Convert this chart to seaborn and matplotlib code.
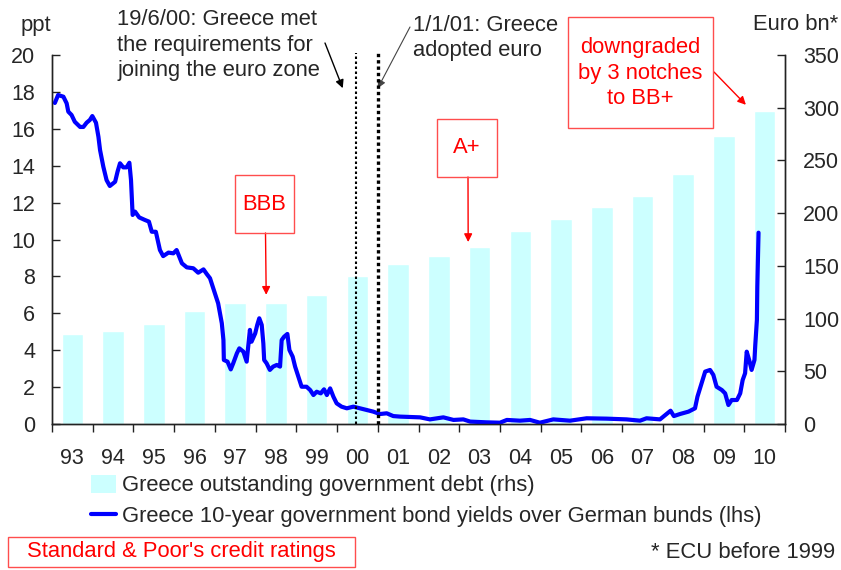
import seaborn as sns
import matplotlib
matplotlib.use('Agg')
from matplotlib import pyplot as plt
from matplotlib.patches import Rectangle, Patch
from matplotlib.lines import Line2D

# bars: outstanding government debt (rhs, euro bn)
years = ['93', '94', '95', '96', '97', '98', '99', '00', '01',
         '02', '03', '04', '05', '06', '07', '08', '09', '10']
debt = [85, 88, 95, 107, 115, 115, 122, 140, 152,
        159, 168, 183, 194, 206, 216, 237, 273, 297]

# line: 10y spread over bunds (lhs, ppt), decimal years
spread_dates = [
    1993.07, 1993.15, 1993.28, 1993.36, 1993.40, 1993.48, 1993.56, 1993.69, 1993.77, 1993.85,
    1993.93, 1993.99, 1994.08, 1994.14, 1994.18, 1994.26, 1994.34, 1994.42, 1994.55, 1994.61,
    1994.67, 1994.75, 1994.83, 1994.90, 1994.94, 1994.98, 1995.04, 1995.14, 1995.28, 1995.38,
    1995.45, 1995.55, 1995.65, 1995.73, 1995.86, 1995.98, 1996.06, 1996.19, 1996.31, 1996.47,
    1996.59, 1996.72, 1996.80, 1996.88, 1997.00, 1997.08, 1997.17, 1997.21, 1997.22, 1997.31,
    1997.39, 1997.45, 1997.54, 1997.60, 1997.70, 1997.78, 1997.86, 1997.90, 1997.99, 1998.04,
    1998.09, 1998.15, 1998.19, 1998.21, 1998.27, 1998.35, 1998.43, 1998.52, 1998.60, 1998.64,
    1998.70, 1998.78, 1998.83, 1998.91, 1998.97, 1999.05, 1999.13, 1999.25, 1999.34, 1999.42,
    1999.50, 1999.60, 1999.68, 1999.75, 1999.83, 1999.91, 1999.99, 2000.11, 2000.24, 2000.40,
    2000.56, 2000.73, 2000.89, 2001.05, 2001.22, 2001.38, 2001.55, 2001.80, 2002.04, 2002.28,
    2002.61, 2002.86, 2003.10, 2003.27, 2003.67, 2004.00, 2004.17, 2004.49, 2004.74, 2004.98,
    2005.31, 2005.72, 2006.13, 2006.62, 2007.11, 2007.44, 2007.60, 2007.93, 2008.19, 2008.27,
    2008.42, 2008.63, 2008.79, 2008.85, 2008.95, 2009.04, 2009.16, 2009.24, 2009.32, 2009.45,
    2009.53, 2009.61, 2009.69, 2009.82, 2009.90, 2009.96, 2010.02, 2010.06, 2010.12, 2010.18,
    2010.25, 2010.27, 2010.31, 2010.32, 2010.35]
spread = [
    17.40, 17.83, 17.74, 17.38, 16.93, 16.75, 16.38, 16.10, 16.10, 16.33,
    16.48, 16.69, 16.33, 15.57, 14.85, 13.95, 13.22, 12.90, 13.13, 13.68,
    14.13, 13.91, 13.91, 14.16, 13.22, 11.33, 11.51, 11.20, 11.06, 10.97,
    10.42, 10.42, 9.43, 9.10, 9.29, 9.25, 9.43, 8.71, 8.49, 8.44,
    8.20, 8.38, 8.13, 7.90, 7.08, 6.54, 5.46, 4.55, 3.47, 3.38,
    2.96, 3.29, 3.83, 4.10, 3.92, 3.38, 5.10, 4.46, 4.91, 5.37,
    5.73, 5.37, 4.37, 3.47, 3.29, 2.93, 3.11, 3.20, 3.11, 4.55,
    4.73, 4.88, 4.01, 3.65, 3.11, 2.56, 2.02, 2.02, 1.84, 1.57,
    1.75, 1.66, 1.88, 1.57, 1.93, 1.48, 1.12, 0.94, 0.85, 0.94,
    0.85, 0.76, 0.67, 0.54, 0.58, 0.43, 0.40, 0.38, 0.36, 0.25,
    0.36, 0.22, 0.25, 0.13, 0.09, 0.07, 0.22, 0.18, 0.22, 0.07,
    0.25, 0.18, 0.31, 0.29, 0.25, 0.18, 0.31, 0.25, 0.72, 0.43,
    0.54, 0.67, 0.85, 1.48, 2.20, 2.84, 2.93, 2.66, 2.02, 1.84,
    1.66, 1.03, 1.30, 1.30, 1.66, 2.38, 2.75, 3.92, 3.47, 2.93,
    3.47, 4.28, 5.64, 7.44, 10.37]

# event dates
met_requirements = 2000.47
adopted_euro = 2001.0
bbb_date, bbb_level = 1998.26, 7.0
aplus_date, aplus_level = 2003.22, 9.86
bbplus_date, bbplus_level = 2010.04, 17.3

W, H = 841, 570
FS = 15.8


def fx(x):
    return x / W


def fy(y):
    return 1 - y / H


def pos(t):
    # decimal year -> categorical bar position
    return t - 1993.5


def redBox(x0, y0, x1, y1):
    fig.add_artist(Rectangle((fx(x0), fy(y1)), fx(x1) - fx(x0), fy(y0) - fy(y1),
                             transform=fig.transFigure, fill=False,
                             edgecolor='#ff4d4d', lw=1.0))


sns.set_style('white')
plt.rcParams['font.family'] = ['Liberation Sans', 'DejaVu Sans']

fig = plt.figure(figsize=(8.41, 5.70), dpi=100)
ax = fig.add_axes([fx(52), fy(424), fx(785) - fx(52), fy(55) - fy(424)])

sns.barplot(x=years, y=debt, color='#ccffff', saturation=1, width=0.53, ax=ax)
ax.set_xlabel('')
ax.set_ylabel('')

ax2 = ax.twinx()
sns.lineplot(x=[pos(t) for t in spread_dates], y=spread, ax=ax2,
             color='#0000ff', lw=3.0, solid_joinstyle='round')
ax2.set_ylabel('')

# bars carry the right-hand scale, the line the left-hand one
ax.set_ylim(0, 350)
ax.set_yticks(range(0, 351, 50))
ax.yaxis.tick_right()
ax2.set_ylim(0, 20)
ax2.set_yticks(range(0, 21, 2))
ax2.yaxis.tick_left()
ax.set_xlim(-0.5, 17.5)
ax2.set_xlim(-0.5, 17.5)

for a, p in ((ax, 13), (ax2, 12)):
    for s in a.spines.values():
        s.set_color('#222222')
        s.set_linewidth(1.0)
    a.spines['top'].set_visible(False)
    a.tick_params(axis='y', direction='in', length=6, width=1,
                  labelsize=15.5, color='#222222', pad=p)

ax.set_xticks(range(len(years)))
ax.set_xticklabels(years)
ax.set_xticks([i - 0.5 for i in range(len(years) + 1)], minor=True)
ax.tick_params(axis='x', which='major', length=0, labelsize=15.5, pad=17)
ax.tick_params(axis='x', which='minor', direction='out', length=6, width=1,
               color='#222222', bottom=True)
ax2.tick_params(axis='x', which='both', length=0, labelbottom=False)

# euro zone dates
ax2.vlines(pos(met_requirements), 0, 20.1, colors='black', linestyles=(0, (1.2, 1.2)),
           lw=1.5, clip_on=False, zorder=5)
ax2.vlines(pos(adopted_euro), 0, 20.1, colors='black', linestyles=(0, (1.0, 0.9)),
           lw=2.4, clip_on=False, zorder=5)

fig.text(fx(117), fy(45), '19/6/00: Greece met\nthe requirements for\njoining the euro zone',
         fontsize=FS, ha='left', va='center', linespacing=1.3)
fig.text(fx(413), fy(38), '1/1/01: Greece\nadopted euro',
         fontsize=FS, ha='left', va='center', linespacing=1.3)
ax2.annotate('', xy=(pos(met_requirements) - 0.33, 18.2), xycoords='data',
             xytext=(325, H - 43), textcoords='figure pixels',
             arrowprops=dict(arrowstyle='-|>', color='black', lw=1.0,
                             mutation_scale=12, shrinkA=0, shrinkB=0))
ax2.annotate('', xy=(pos(adopted_euro), 18.2), xycoords='data',
             xytext=(410, H - 27), textcoords='figure pixels',
             arrowprops=dict(arrowstyle='-|>', color='#444444', lw=0.8,
                             mutation_scale=12, shrinkA=0, shrinkB=0))

# credit rating boxes
red = '#ff0000'
boxes = [
    ('BBB', (235, 175, 294, 233), bbb_date, bbb_level),
    ('A+', (437, 119, 497, 177), aplus_date, aplus_level),
]
for label, (x0, y0, x1, y1), t, lev in boxes:
    redBox(x0, y0, x1, y1)
    fig.text(fx((x0 + x1) / 2), fy((y0 + y1) / 2), label, color=red,
             fontsize=FS, ha='center', va='center')
    ax2.annotate('', xy=(pos(t), lev), xycoords='data',
                 xytext=((x0 + x1) / 2 + 1, H - y1), textcoords='figure pixels',
                 arrowprops=dict(arrowstyle='-|>', color=red, lw=1.0,
                                 mutation_scale=12, shrinkA=0, shrinkB=0))

redBox(568, 17, 713, 128)
fig.text(fx(640), fy(73), 'downgraded\nby 3 notches\nto BB+', color=red,
         fontsize=FS, ha='center', va='center', linespacing=1.25)
ax2.annotate('', xy=(pos(bbplus_date), bbplus_level), xycoords='data',
             xytext=(714, H - 72), textcoords='figure pixels',
             arrowprops=dict(arrowstyle='-|>', color=red, lw=1.0,
                             mutation_scale=12, shrinkA=0, shrinkB=0))

# axis units
fig.text(fx(36), fy(25), 'ppt', fontsize=FS, ha='center', va='center')
fig.text(fx(796), fy(25), 'Euro bn*', fontsize=FS, ha='center', va='center')

# legend
handles = [Patch(facecolor='#ccffff', edgecolor='none'),
           Line2D([0], [0], color='#0000ff', lw=3)]
labels = ['Greece outstanding government debt (rhs)',
          'Greece 10-year government bond yields over German bunds (lhs)']
fig.legend(handles, labels, loc='upper left', bbox_to_anchor=(fx(91), fy(475)),
           frameon=False, fontsize=FS, borderpad=0, borderaxespad=0,
           handlelength=1.15, handleheight=0.85, handletextpad=0.25,
           labelspacing=0.42)

redBox(8, 537, 355, 567)
fig.text(fx(181), fy(552), "Standard & Poor's credit ratings", color=red,
         fontsize=FS, ha='center', va='center')
fig.text(fx(835), fy(552), '* ECU before 1999', fontsize=FS, ha='right', va='center')

fig.savefig('out.png', dpi=100)
plt.close(fig)
